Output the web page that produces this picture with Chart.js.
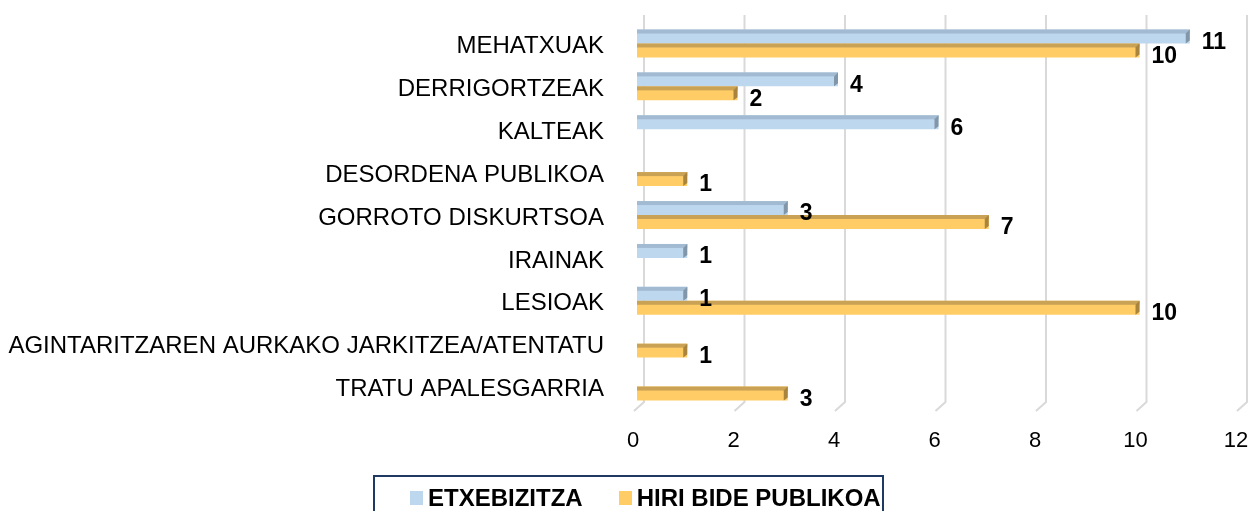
<!DOCTYPE html>
<html>
<head>
<meta charset="utf-8">
<script src="https://cdn.jsdelivr.net/npm/chart.js@4.4.0/dist/chart.umd.min.js"></script>
<style>
  html, body { margin: 0; padding: 0; background: #fff; }
  #wrap { position: relative; width: 1249px; height: 511px; }
  #legend {
    position: absolute; left: 373px; top: 475px; width: 511px; height: 44px;
    border: 2px solid #1f3864; box-sizing: border-box;
    font: bold 24px "Liberation Sans", Arial, sans-serif; color: #000;
    display: flex; align-items: center; padding-left: 35px; padding-top: 1px;
    white-space: nowrap;
  }
  #legend span.sw { display: inline-block; width: 13px; height: 14px; margin-right: 5px; }
  #legend .item { display: flex; align-items: center; margin-right: 36px; flex: none; }
</style>
</head>
<body>
<div id="wrap">
  <canvas id="chart" width="1249" height="511"></canvas>
  <div id="legend"></div>
</div>
<script>
// --- Data ---
const categories = [
  "MEHATXUAK",
  "DERRIGORTZEAK",
  "KALTEAK",
  "DESORDENA PUBLIKOA",
  "GORROTO DISKURTSOA",
  "IRAINAK",
  "LESIOAK",
  "AGINTARITZAREN AURKAKO JARKITZEA/ATENTATU",
  "TRATU APALESGARRIA",
];
const etxebizitza = [11, 4, 6, null, 3, 1, 1, null, null];
const hiriBidePublikoa = [10, 2, null, 1, 7, null, 10, 1, 3];
const seriesNames = ["ETXEBIZITZA", "HIRI BIDE PUBLIKOA"];
const xTicks = [0, 2, 4, 6, 8, 10, 12];

const FONT = '"Liberation Sans", Arial, sans-serif';
const fills = ["#bdd7ee", "#ffcc66"];
const tops = ["#a3bbd2", "#c9a256"];
const ends = ["#8196a9", "#a9843c"];

// back-wall gridlines with a slanted foot, like the 3D original
const gridPlugin = {
  id: "grid3d",
  beforeDatasetsDraw(chart) {
    const { ctx, chartArea } = chart;
    const xs = chart.scales.x;
    ctx.save();
    ctx.strokeStyle = "#d9d9d9";
    ctx.lineWidth = 2;
    xTicks.forEach((v) => {
      const px = xs.getPixelForValue(v);
      ctx.beginPath();
      ctx.moveTo(px + 7, chartArea.top - 7);
      ctx.lineTo(px + 7, chartArea.bottom - 6);
      ctx.lineTo(px - 3, chartArea.bottom + 3);
      ctx.stroke();
    });
    ctx.restore();
  },
};

// fake 3D: darker top strip and right end cap on each bar
const bevelPlugin = {
  id: "bevel",
  afterDatasetsDraw(chart) {
    const ctx = chart.ctx;
    chart.data.datasets.forEach((ds, di) => {
      const meta = chart.getDatasetMeta(di);
      meta.data.forEach((bar, i) => {
        if (ds.data[i] == null) return;
        const { x, y, base, height } = bar.getProps(["x", "y", "base", "height"], true);
        const top = y - height / 2;
        const bottom = y + height / 2;
        ctx.save();
        ctx.fillStyle = tops[di];
        ctx.fillRect(base, top, x - base, 4);
        ctx.fillStyle = ends[di];
        ctx.beginPath();
        ctx.moveTo(x - 4, top + 4);
        ctx.lineTo(x, top);
        ctx.lineTo(x, bottom - 3);
        ctx.lineTo(x - 4, bottom);
        ctx.closePath();
        ctx.fill();
        ctx.restore();
      });
    });
  },
};

// value labels to the right of each bar
const labelPlugin = {
  id: "valueLabels",
  afterDraw(chart) {
    const ctx = chart.ctx;
    ctx.save();
    ctx.font = "bold 23px " + FONT;
    ctx.fillStyle = "#000";
    ctx.textBaseline = "middle";
    ctx.textAlign = "left";
    chart.data.datasets.forEach((ds, di) => {
      const meta = chart.getDatasetMeta(di);
      meta.data.forEach((bar, i) => {
        if (ds.data[i] == null) return;
        const { x, y } = bar.getProps(["x", "y"], true);
        ctx.fillText(String(ds.data[i]), x + 12, y + 6);
      });
    });
    ctx.restore();
  },
};

new Chart(document.getElementById("chart"), {
  type: "bar",
  data: {
    labels: categories,
    datasets: [
      { label: seriesNames[0], data: etxebizitza, backgroundColor: fills[0] },
      { label: seriesNames[1], data: hiriBidePublikoa, backgroundColor: fills[1] },
    ],
  },
  options: {
    indexAxis: "y",
    responsive: false,
    animation: false,
    barPercentage: 1,
    categoryPercentage: 0.65,
    layout: { padding: { top: 22, right: 9, bottom: 0, left: 0 } },
    plugins: { legend: { display: false }, tooltip: { enabled: false } },
    scales: {
      x: {
        min: 0,
        max: 12,
        afterBuildTicks: (axis) => { axis.ticks = xTicks.map((v) => ({ value: v })); },
        afterFit: (axis) => { axis.height = 103; axis.paddingLeft = 0; axis.paddingRight = 0; },
        grid: { display: false },
        border: { display: false },
        ticks: { font: { size: 22, family: FONT }, color: "#000", padding: 12, labelOffset: -4 },
      },
      y: {
        afterFit: (axis) => { axis.width = 637; axis.paddingTop = 0; axis.paddingBottom = 0; },
        grid: { display: false },
        border: { display: false },
        ticks: { font: { size: 24, family: FONT }, color: "#000", padding: 25, labelOffset: 3 },
      },
    },
  },
  plugins: [gridPlugin, bevelPlugin, labelPlugin],
});

// legend
const legend = document.getElementById("legend");
legend.innerHTML = seriesNames
  .map((n, i) => `<div class="item"><span class="sw" style="background:${fills[i]}"></span>${n}</div>`)
  .join("");
</script>
</body>
</html>
